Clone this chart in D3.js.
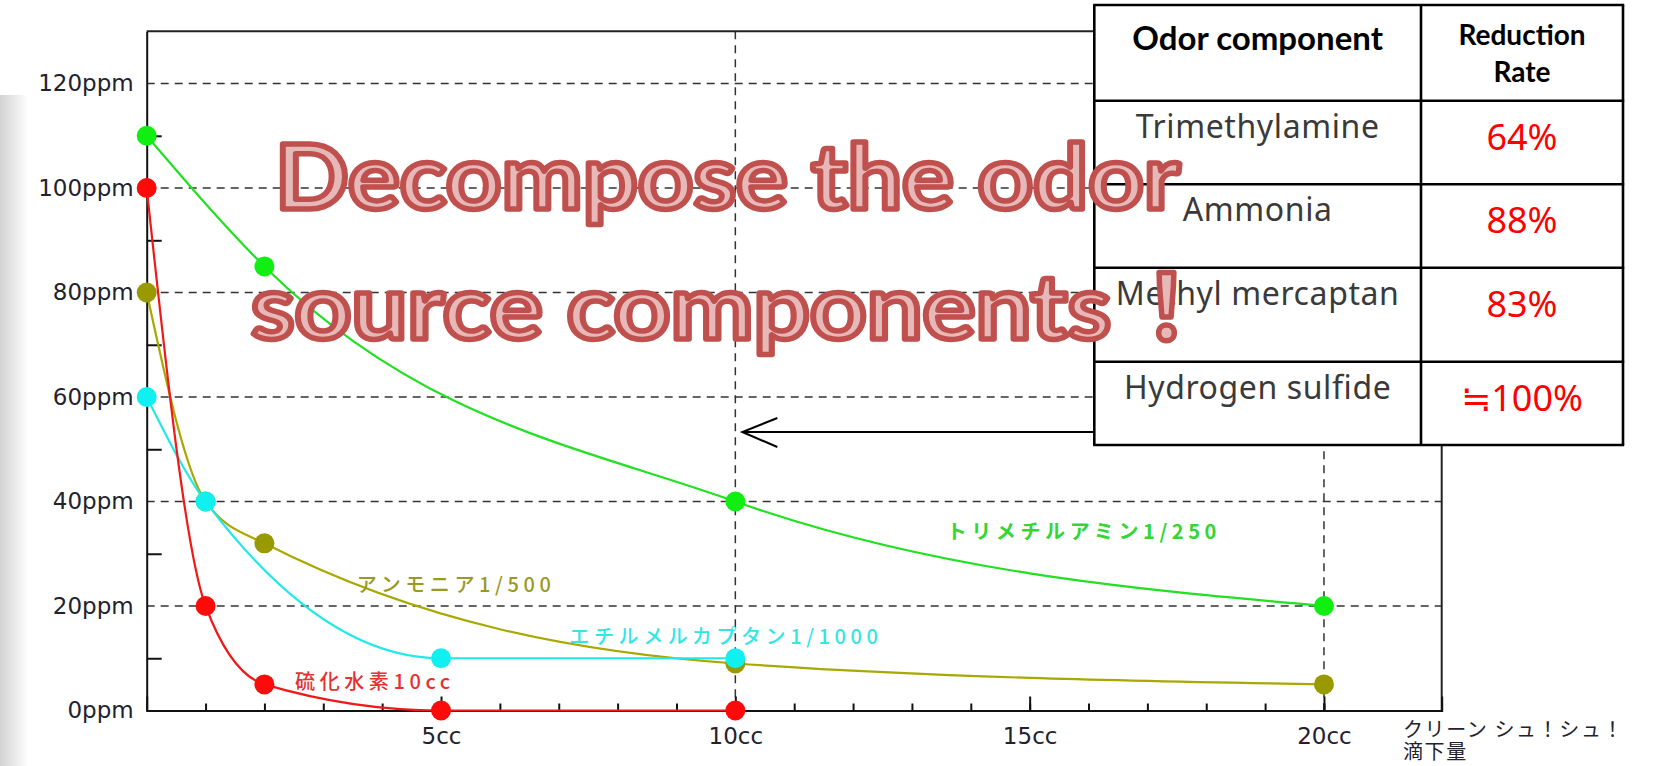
<!DOCTYPE html>
<html>
<head>
<meta charset="utf-8">
<script src="https://cdn.jsdelivr.net/npm/d3@7"></script>
<style>
  body { margin: 0; background: #fff; overflow: hidden; }
  svg { display: block; }
</style>
</head>
<body>
<div id="chart"></div>
<script>
// cleaner dropped (cc) -> remaining odor (ppm)
var trimethylamineX = [0, 2, 10, 20];
var trimethylamineY = [110, 85, 40, 20];
var ammoniaX = [0, 1, 2, 10, 20];
var ammoniaY = [80, 40, 32, 9, 5];
var mercaptanX = [0, 1, 5, 10];
var mercaptanY = [60, 40, 10, 10];
var sulfideX = [0, 1, 2, 5, 10];
var sulfideY = [100, 20, 5, 0, 0];

var seriesLabels = ["トリメチルアミン1/250", "アンモニア1/500", "エチルメルカプタン1/1000", "硫化水素10cc"];
var yTicks = [0, 20, 40, 60, 80, 100, 120];
var yMinorTicks = [10, 30, 50, 70, 90, 110];
var xTicks = [5, 10, 15, 20];
var xMinorTicks = d3.range(1, 21);
var xGrid = [10, 20];
var xTitle = ["クリーン シュ！シュ！", "滴下量"];

var tableHeader = ["Odor component", ["Reduction", "Rate"]];
var components = ["Trimethylamine", "Ammonia", "Methyl mercaptan", "Hydrogen sulfide"];
var reductionRates = ["64%", "88%", "83%", "≒100%"];

var titleLines = ["Decompose the odor", "source components", "！"];

var width = 1653, height = 766;

var svg = d3.select('#chart')
  .append('svg')
  .attr('width', width)
  .attr('height', height);

// faint grey band on the left edge
var defs = svg.append('defs');
var grad = defs.append('linearGradient').attr('id', 'edge').attr('x1', 0).attr('x2', 1);
grad.append('stop').attr('offset', 0).attr('stop-color', '#d2d2d2');
grad.append('stop').attr('offset', 1).attr('stop-color', '#ffffff');
svg.append('rect').attr('x', 0).attr('y', 95).attr('width', 28).attr('height', height - 95)
  .attr('fill', 'url(#edge)');

var x = d3.scaleLinear().domain([0, 22]).range([146.7, 1441.7]);
var y = d3.scaleLinear().domain([0, 130]).range([710.5, 31.3]);

// dashed grid
svg.append('g').selectAll('line')
  .data(yTicks.filter(d => d > 0))
  .enter().append('line')
  .attr('x1', x(0)).attr('x2', x(22))
  .attr('y1', d => y(d)).attr('y2', d => y(d))
  .attr('stroke', '#333').attr('stroke-width', 1.5).attr('stroke-dasharray', '8,6');

svg.append('g').selectAll('line')
  .data(xGrid)
  .enter().append('line')
  .attr('x1', d => x(d)).attr('x2', d => x(d))
  .attr('y1', y(130)).attr('y2', y(0))
  .attr('stroke', '#333').attr('stroke-width', 1.5).attr('stroke-dasharray', '8,6');

// frame top / right
svg.append('line').attr('x1', x(0)).attr('x2', x(22)).attr('y1', y(130)).attr('y2', y(130))
  .attr('stroke', '#222').attr('stroke-width', 2);
svg.append('line').attr('x1', x(22)).attr('x2', x(22)).attr('y1', y(130)).attr('y2', y(0))
  .attr('stroke', '#222').attr('stroke-width', 2);

// axes
var axisFont = "'DejaVu Sans', sans-serif";

var yAxis = svg.append('g')
  .attr('transform', `translate(${x(0)},0)`)
  .call(d3.axisLeft(y).tickValues(yTicks).tickSize(0).tickPadding(13).tickFormat(d => d + 'ppm'));
yAxis.select('.domain').attr('stroke', '#111').attr('stroke-width', 2);
yAxis.selectAll('text').attr('font-family', axisFont).attr('font-size', 23).attr('fill', '#22222e');

svg.append('g')
  .attr('transform', `translate(${x(0)},0)`)
  .call(d3.axisRight(y).tickValues(yMinorTicks).tickSize(15).tickFormat(''))
  .call(g => g.select('.domain').remove())
  .selectAll('line').attr('stroke', '#111').attr('stroke-width', 2);

var xAxis = svg.append('g')
  .attr('transform', `translate(0,${y(0)})`)
  .call(d3.axisBottom(x).tickValues(xTicks).tickSize(-14).tickPadding(17).tickFormat(d => d + 'cc'));
xAxis.select('.domain').attr('stroke', '#111').attr('stroke-width', 2);
xAxis.selectAll('line').attr('stroke', '#111').attr('stroke-width', 2);
xAxis.selectAll('text').attr('font-family', axisFont).attr('font-size', 23).attr('fill', '#22222e');

svg.append('g')
  .attr('transform', `translate(0,${y(0)})`)
  .call(d3.axisBottom(x).tickValues(xMinorTicks).tickSize(-7).tickFormat(''))
  .call(g => g.select('.domain').remove())
  .selectAll('line').attr('stroke', '#111').attr('stroke-width', 2);

svg.append('g').selectAll('text')
  .data(xTitle)
  .enter().append('text')
  .attr('x', 1403)
  .attr('y', (d, i) => 737 + i * 22)
  .attr('font-family', "'Noto Sans CJK JP', sans-serif")
  .attr('font-size', 20)
  .attr('letter-spacing', 1.6)
  .attr('fill', '#22222e')
  .text(d => d);

// series
var series = [
  {xs: ammoniaX, ys: ammoniaY, line: '#a8a800', dot: '#999900', text: '#9a9a20', label: seriesLabels[1], lx: 3.57, ly: 24.3, bold: false},
  {xs: mercaptanX, ys: mercaptanY, line: '#22e8e8', dot: '#11f0f0', text: '#33e6e6', label: seriesLabels[2], lx: 7.18, ly: 14.3, bold: false},
  {xs: trimethylamineX, ys: trimethylamineY, line: '#22e022', dot: '#11ee11', text: '#33d633', label: seriesLabels[0], lx: 13.59, ly: 34.5, bold: true},
  {xs: sulfideX, ys: sulfideY, line: '#f01818', dot: '#ff0a0a', text: '#e83030', label: seriesLabels[3], lx: 2.52, ly: 5.8, bold: false}
];

var line = d3.line()
  .x(d => x(d[0]))
  .y(d => y(d[1]))
  .curve(d3.curveMonotoneX);

series.forEach(function(s) {
  var pts = s.xs.map((v, i) => [v, s.ys[i]]);
  svg.append('path')
    .attr('d', line(pts))
    .attr('fill', 'none')
    .attr('stroke', s.line)
    .attr('stroke-width', 2.2);
  svg.append('g').selectAll('circle')
    .data(pts)
    .enter().append('circle')
    .attr('cx', d => x(d[0]))
    .attr('cy', d => y(d[1]))
    .attr('r', 10)
    .attr('fill', s.dot);
});

series.forEach(function(s) {
  svg.append('text')
    .attr('x', x(s.lx))
    .attr('y', y(s.ly))
    .attr('dominant-baseline', 'central')
    .attr('font-family', "'Noto Sans CJK JP', sans-serif")
    .attr('font-size', 20)
    .attr('font-weight', s.bold ? 700 : 500)
    .attr('letter-spacing', 4.6)
    .attr('fill', s.text)
    .text(s.label);
});

// arrow pointing from the table to the chart
var arrowY = y(53.3), arrowX = x(10) + 7;
svg.append('line').attr('x1', arrowX).attr('x2', 1095).attr('y1', arrowY).attr('y2', arrowY)
  .attr('stroke', '#000').attr('stroke-width', 2);
svg.append('path')
  .attr('d', `M${arrowX + 35},${arrowY - 14}L${arrowX},${arrowY}L${arrowX + 35},${arrowY + 15}`)
  .attr('fill', 'none').attr('stroke', '#000').attr('stroke-width', 2);

// reduction table
var colX = [1094.3, 1421, 1623];
var rowY = [5, 100.7, 184.3, 267.7, 361.7, 445];
var table = svg.append('g');
table.append('rect')
  .attr('x', colX[0]).attr('y', rowY[0])
  .attr('width', colX[2] - colX[0]).attr('height', rowY[5] - rowY[0])
  .attr('fill', '#fff');
table.selectAll('line.h')
  .data(rowY)
  .enter().append('line')
  .attr('x1', colX[0] - 1.2).attr('x2', colX[2] + 1.2)
  .attr('y1', d => d).attr('y2', d => d)
  .attr('stroke', '#000').attr('stroke-width', 2.6);
table.selectAll('line.v')
  .data(colX)
  .enter().append('line')
  .attr('x1', d => d).attr('x2', d => d)
  .attr('y1', rowY[0]).attr('y2', rowY[5])
  .attr('stroke', '#000').attr('stroke-width', 2.6);

var c1 = (colX[0] + colX[1]) / 2, c2 = (colX[1] + colX[2]) / 2;
table.append('text')
  .attr('x', c1).attr('y', 50)
  .attr('text-anchor', 'middle')
  .attr('font-family', 'Lato, sans-serif').attr('font-weight', 700).attr('font-size', 33)
  .attr('fill', '#000')
  .text(tableHeader[0]);
table.selectAll('text.rh')
  .data(tableHeader[1])
  .enter().append('text')
  .attr('x', c2).attr('y', (d, i) => 45 + i * 37)
  .attr('text-anchor', 'middle')
  .attr('font-family', 'Lato, sans-serif').attr('font-weight', 700).attr('font-size', 28)
  .attr('fill', '#000')
  .text(d => d);

table.selectAll('text.comp')
  .data(components)
  .enter().append('text')
  .attr('x', c1).attr('y', (d, i) => rowY[i + 1] + 37)
  .attr('text-anchor', 'middle')
  .attr('font-family', "'Noto Sans', sans-serif").attr('font-size', 32)
  .attr('letter-spacing', 0.6)
  .attr('fill', '#3a3a3a')
  .text(d => d);

table.selectAll('text.rate')
  .data(reductionRates)
  .enter().append('text')
  .attr('x', c2).attr('y', (d, i) => rowY[i + 1] + 49)
  .attr('text-anchor', 'middle')
  .attr('font-family', "'Noto Sans', 'DejaVu Sans', sans-serif").attr('font-size', 36)
  .attr('fill', '#ff0000')
  .text(d => d);

// overlay title
var title = svg.append('g')
  .attr('font-family', "Lato, 'Noto Sans CJK JP', sans-serif")
  .attr('font-weight', 700)
  .attr('font-size', 89)
  .attr('fill', '#e6b9b8')
  .attr('stroke', '#c0504d')
  .attr('stroke-width', 5.5)
  .attr('stroke-linejoin', 'round');

title.append('text')
  .attr('x', 275).attr('y', 209)
  .attr('textLength', 905).attr('lengthAdjust', 'spacingAndGlyphs')
  .text(titleLines[0]);

var t2 = title.append('text').attr('x', 251).attr('y', 339);
t2.append('tspan')
  .attr('textLength', 860).attr('lengthAdjust', 'spacingAndGlyphs')
  .text(titleLines[1]);
t2.append('tspan')
  .attr('x', 1122)
  .text(titleLines[2]);
</script>
</body>
</html>
